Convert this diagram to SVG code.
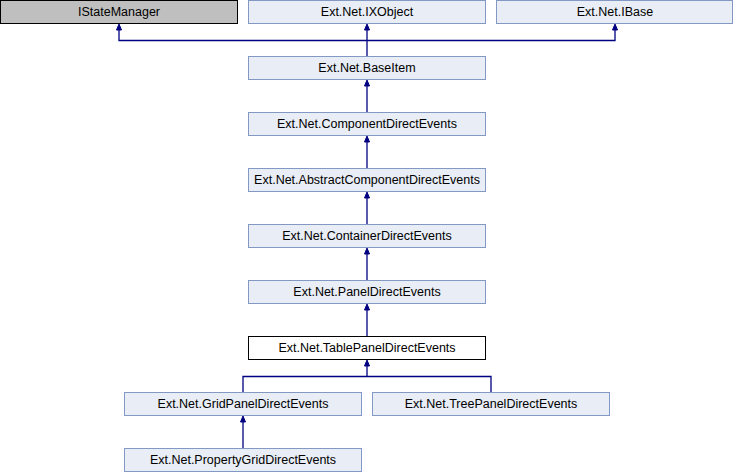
<svg xmlns="http://www.w3.org/2000/svg" width="734" height="472" viewBox="0 0 734 472">
<defs>
<style>
.n rect{fill:#e8edf6;stroke:#8498c4;stroke-width:1}
.g rect{fill:#bfbfbf;stroke:#000;stroke-width:1}
.w rect{fill:#fff;stroke:#000;stroke-width:1}
text{font-family:"Liberation Sans",Arial,sans-serif;font-size:12.5px;fill:#000;text-anchor:middle}
.e path{fill:none;stroke:#000080;stroke-width:1.3}
.e polygon{fill:#000080;stroke:#000080;stroke-width:1}
</style>
</defs>
<rect width="734" height="472" fill="#fff"/>
<g class="e" id="connectors">
<path d="M119,30V40.5H615V30"/>
<path d="M367,30V56"/>
<polygon points="119,24 116.5,30 121.5,30"/>
<polygon points="367,24 364.5,30 369.5,30"/>
<polygon points="615,24 612.5,30 617.5,30"/>
<path d="M367,86V112"/>
<polygon points="367,80 364.5,86 369.5,86"/>
<path d="M367,142V168"/>
<polygon points="367,136 364.5,142 369.5,142"/>
<path d="M367,198V224"/>
<polygon points="367,192 364.5,198 369.5,198"/>
<path d="M367,254V280"/>
<polygon points="367,248 364.5,254 369.5,254"/>
<path d="M367,310V336"/>
<polygon points="367,304 364.5,310 369.5,310"/>
<path d="M367,366V376.5M243,392V376.5H491V392"/>
<polygon points="367,360 364.5,366 369.5,366"/>
<path d="M243,422V448"/>
<polygon points="243,416 240.5,422 245.5,422"/>
</g>
<g class="g" id="IStateManager"><rect x="0.5" y="0.5" width="237" height="23"/><text x="119" y="16">IStateManager</text></g>
<g class="n" id="IXObject"><rect x="248.5" y="0.5" width="237" height="23"/><text x="367" y="16">Ext.Net.IXObject</text></g>
<g class="n" id="IBase"><rect x="496.5" y="0.5" width="236" height="23"/><text x="615" y="16">Ext.Net.IBase</text></g>
<g class="n" id="BaseItem"><rect x="248.5" y="56.5" width="237" height="23"/><text x="367" y="72">Ext.Net.BaseItem</text></g>
<g class="n" id="ComponentDirectEvents"><rect x="248.5" y="112.5" width="237" height="23"/><text x="367" y="128">Ext.Net.ComponentDirectEvents</text></g>
<g class="n" id="AbstractComponentDirectEvents"><rect x="248.5" y="168.5" width="237" height="23"/><text x="367" y="184">Ext.Net.AbstractComponentDirectEvents</text></g>
<g class="n" id="ContainerDirectEvents"><rect x="248.5" y="224.5" width="237" height="23"/><text x="367" y="240">Ext.Net.ContainerDirectEvents</text></g>
<g class="n" id="PanelDirectEvents"><rect x="248.5" y="280.5" width="237" height="23"/><text x="367" y="296">Ext.Net.PanelDirectEvents</text></g>
<g class="w" id="TablePanelDirectEvents"><rect x="248.5" y="336.5" width="237" height="23"/><text x="367" y="352">Ext.Net.TablePanelDirectEvents</text></g>
<g class="n" id="GridPanelDirectEvents"><rect x="124.5" y="392.5" width="237" height="23"/><text x="243" y="408">Ext.Net.GridPanelDirectEvents</text></g>
<g class="n" id="TreePanelDirectEvents"><rect x="372.5" y="392.5" width="237" height="23"/><text x="491" y="408">Ext.Net.TreePanelDirectEvents</text></g>
<g class="n" id="PropertyGridDirectEvents"><rect x="124.5" y="448.5" width="237" height="23"/><text x="243" y="464">Ext.Net.PropertyGridDirectEvents</text></g>
</svg>
